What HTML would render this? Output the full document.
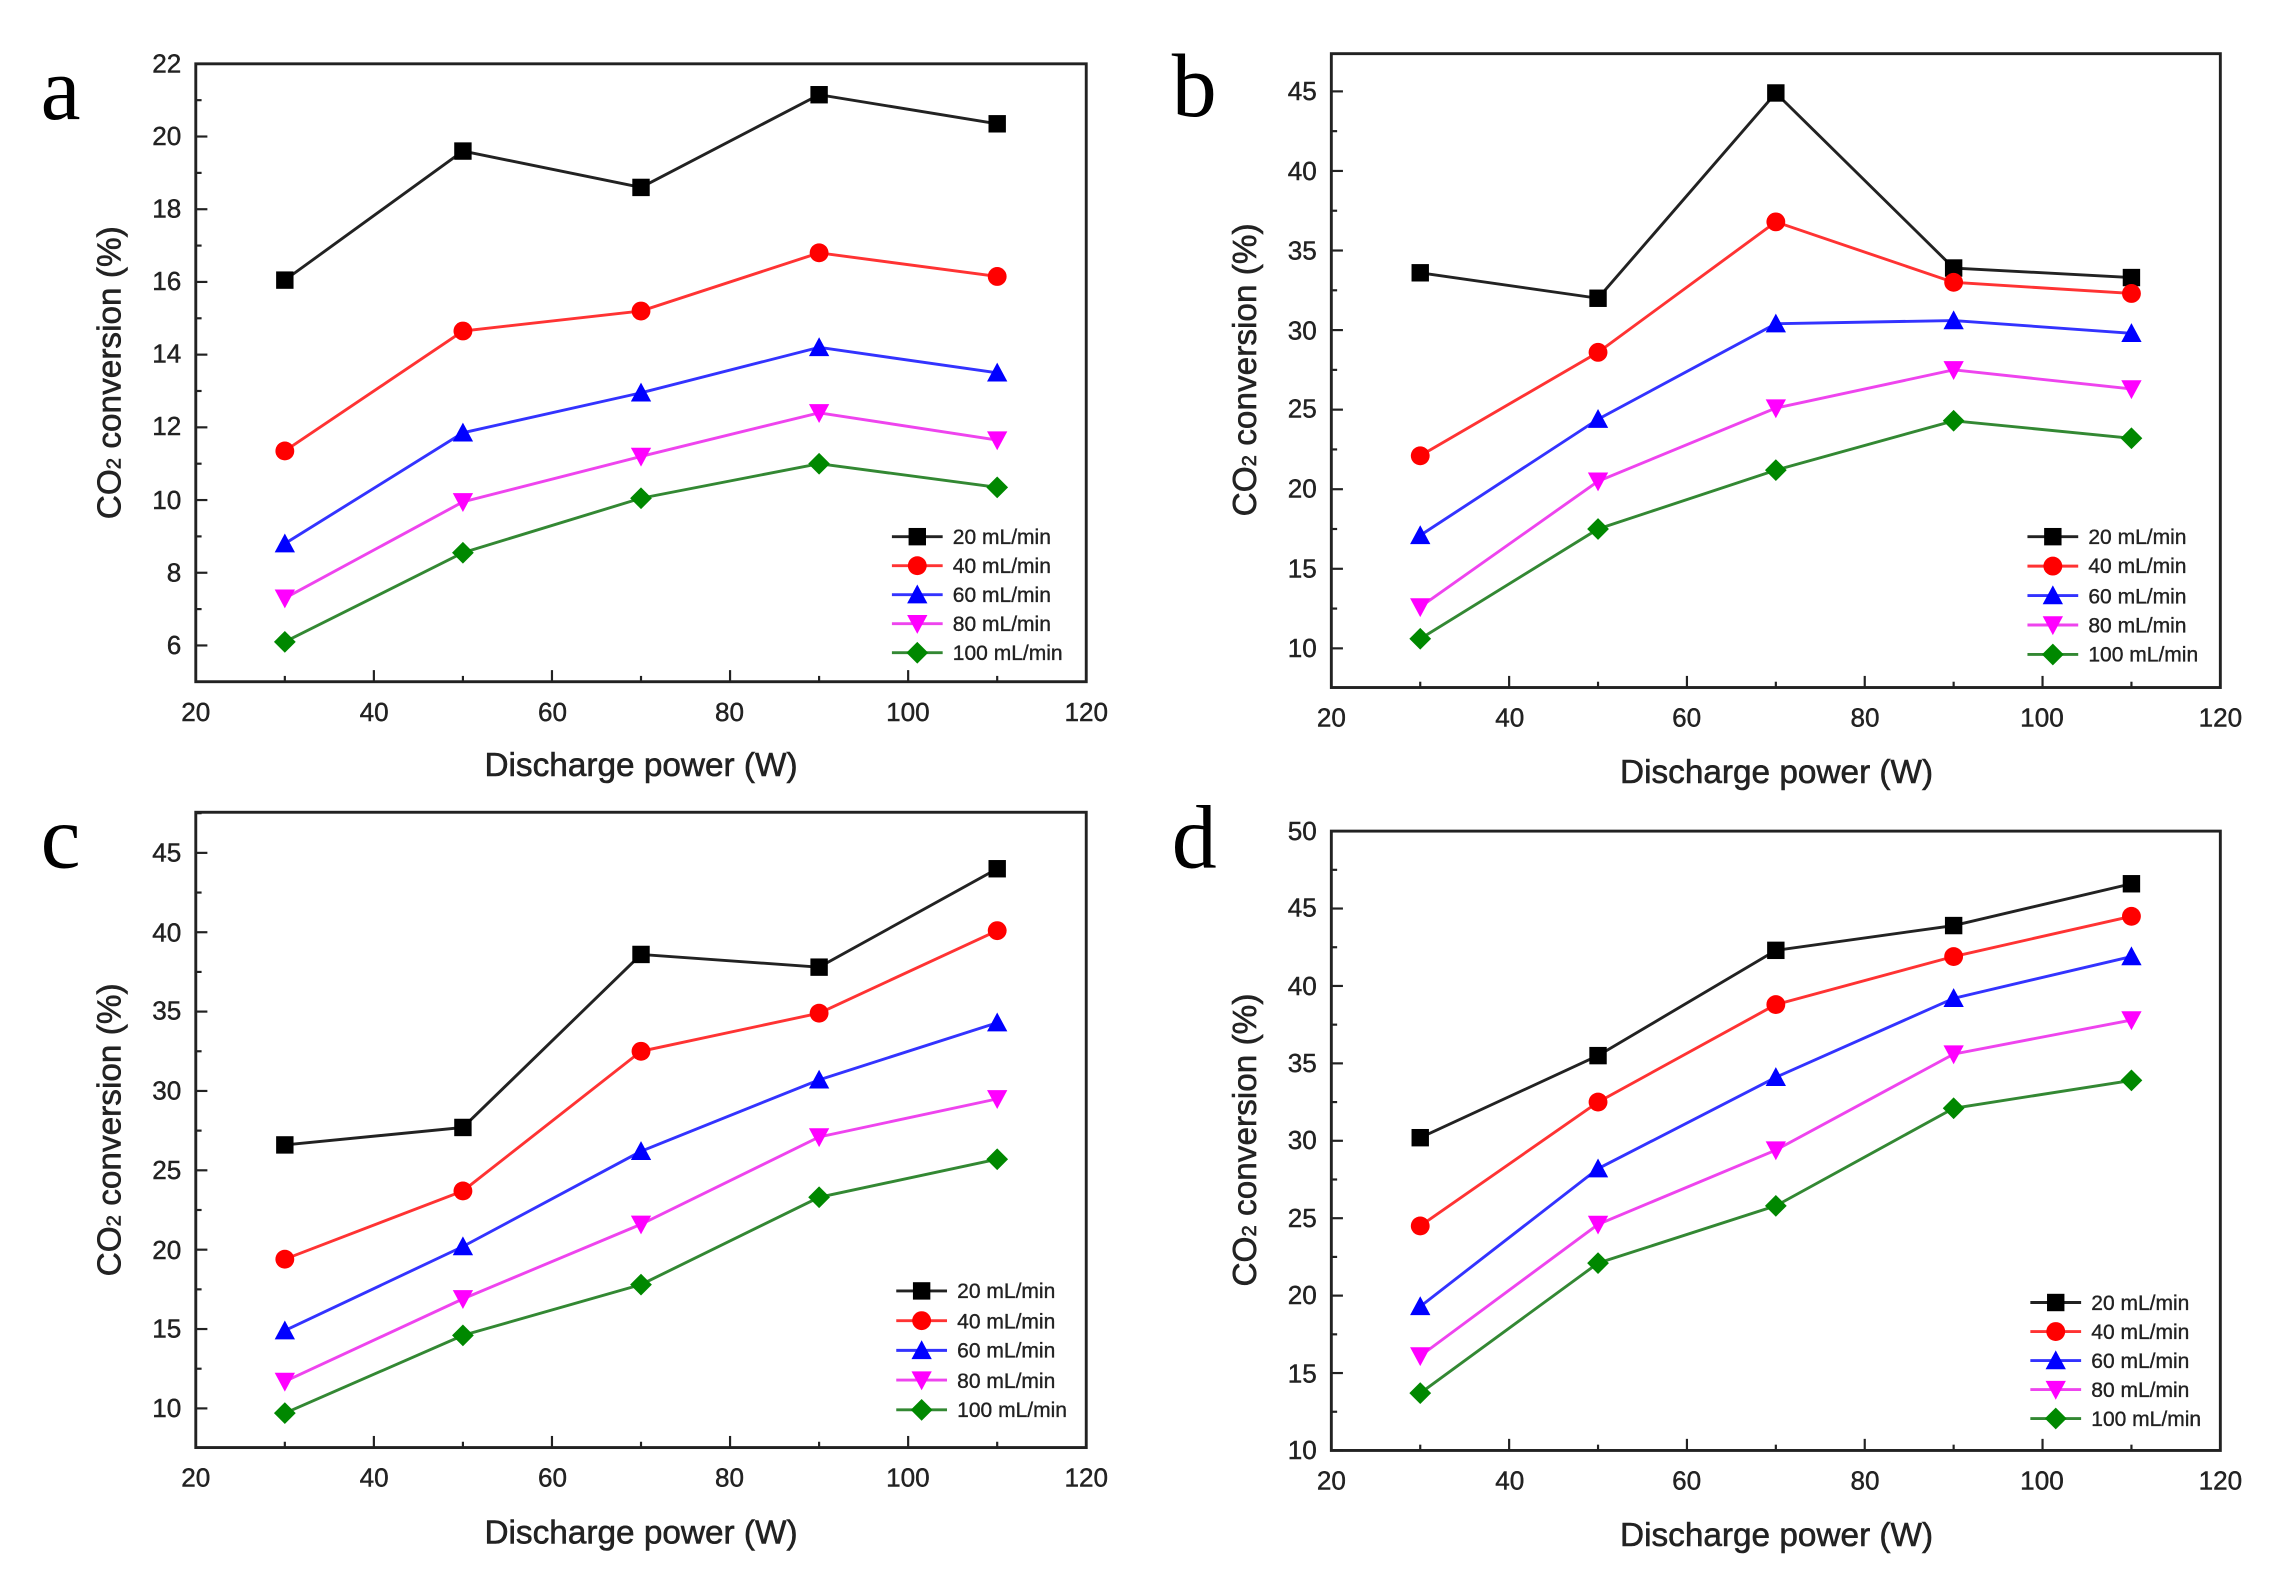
<!DOCTYPE html>
<html><head><meta charset="utf-8"><style>
html,body{margin:0;padding:0;background:#fff;}
svg{display:block}
text{font-family:"Liberation Sans",Arial,sans-serif;fill:#222}
.t{font-size:18px;stroke:#222;stroke-width:0.3px}
.ax{font-size:23px;stroke:#222;stroke-width:0.4px}
.lg{font-size:14.5px;stroke:#222;stroke-width:0.25px}
.pl{font-family:"Liberation Serif",serif;font-size:62px;fill:#000}
</style></head><body>
<svg id="s" width="2274" height="1581" viewBox="0 0 1568 1090" preserveAspectRatio="none" xmlns="http://www.w3.org/2000/svg">
<rect width="1568" height="1090" fill="#fff"/>
<g id="g"></g>
<text class="pl" x="28" y="82">a</text>
<text class="pl" x="808" y="80">b</text>
<text class="pl" x="28" y="598">c</text>
<text class="pl" x="808" y="598">d</text>
<text class="ax" x="442" y="535" text-anchor="middle">Discharge power (W)</text>
<text class="ax" x="1225" y="540" text-anchor="middle">Discharge power (W)</text>
<text class="ax" x="442" y="1064" text-anchor="middle">Discharge power (W)</text>
<text class="ax" x="1225" y="1066" text-anchor="middle">Discharge power (W)</text>
<text class="ax" transform="translate(83,257) rotate(-90)" text-anchor="middle">CO<tspan font-size="14">2</tspan> conversion (%)</text>
<text class="ax" transform="translate(866,255) rotate(-90)" text-anchor="middle">CO<tspan font-size="14">2</tspan> conversion (%)</text>
<text class="ax" transform="translate(83,779) rotate(-90)" text-anchor="middle">CO<tspan font-size="14">2</tspan> conversion (%)</text>
<text class="ax" transform="translate(866,786) rotate(-90)" text-anchor="middle">CO<tspan font-size="14">2</tspan> conversion (%)</text>
<g class="t" text-anchor="middle">
<text x="135" y="497">20</text><text x="258" y="497">40</text><text x="381" y="497">60</text><text x="503" y="497">80</text><text x="626" y="497">100</text><text x="749" y="497">120</text>
<text x="918" y="501">20</text><text x="1041" y="501">40</text><text x="1163" y="501">60</text><text x="1286" y="501">80</text><text x="1408" y="501">100</text><text x="1531" y="501">120</text>
<text x="135" y="1025">20</text><text x="258" y="1025">40</text><text x="381" y="1025">60</text><text x="503" y="1025">80</text><text x="626" y="1025">100</text><text x="749" y="1025">120</text>
<text x="918" y="1027">20</text><text x="1041" y="1027">40</text><text x="1163" y="1027">60</text><text x="1286" y="1027">80</text><text x="1408" y="1027">100</text><text x="1531" y="1027">120</text>
</g>
<g class="t" text-anchor="end">
<text x="125" y="50">22</text><text x="125" y="100">20</text><text x="125" y="150">18</text><text x="125" y="200">16</text><text x="125" y="250">14</text><text x="125" y="300">12</text><text x="125" y="351">10</text><text x="125" y="401">8</text><text x="125" y="451">6</text>
<text x="908" y="69">45</text><text x="908" y="124">40</text><text x="908" y="179">35</text><text x="908" y="234">30</text><text x="908" y="288">25</text><text x="908" y="343">20</text><text x="908" y="398">15</text><text x="908" y="453">10</text>
<text x="125" y="594">45</text><text x="125" y="649">40</text><text x="125" y="703">35</text><text x="125" y="758">30</text><text x="125" y="813">25</text><text x="125" y="868">20</text><text x="125" y="922">15</text><text x="125" y="977">10</text>
<text x="908" y="579">50</text><text x="908" y="632">45</text><text x="908" y="686">40</text><text x="908" y="739">35</text><text x="908" y="792">30</text><text x="908" y="846">25</text><text x="908" y="899">20</text><text x="908" y="953">15</text><text x="908" y="1006">10</text>
</g>
<g class="lg">
<text x="657" y="375">20 mL/min</text><text x="657" y="395">40 mL/min</text><text x="657" y="415">60 mL/min</text><text x="657" y="435">80 mL/min</text><text x="657" y="455">100 mL/min</text>
<text x="1440" y="375">20 mL/min</text><text x="1440" y="395">40 mL/min</text><text x="1440" y="416">60 mL/min</text><text x="1440" y="436">80 mL/min</text><text x="1440" y="456">100 mL/min</text>
<text x="660" y="895">20 mL/min</text><text x="660" y="916">40 mL/min</text><text x="660" y="936">60 mL/min</text><text x="660" y="957">80 mL/min</text><text x="660" y="977">100 mL/min</text>
<text x="1442" y="903">20 mL/min</text><text x="1442" y="923">40 mL/min</text><text x="1442" y="943">60 mL/min</text><text x="1442" y="963">80 mL/min</text><text x="1442" y="983">100 mL/min</text>
</g>
</svg>
<script>
var NS="http://www.w3.org/2000/svg",G=document.getElementById("g");
function el(t,a){var e=document.createElementNS(NS,t);for(var k in a)e.setAttribute(k,a[k]);G.appendChild(e);return e;}
var cols=["#000","#f00","#00f","#f0f","#080"],lcols=["#222","#f33","#33f","#e4e","#383"];
function mk(i,x,y){var c=cols[i],s=6;
 if(i==0)el("rect",{x:x-s,y:y-s,width:2*s,height:2*s,fill:c});
 else if(i==1)el("circle",{cx:x,cy:y,r:s+0.5,fill:c});
 else if(i==2)el("polygon",{points:(x)+","+(y-s-1)+" "+(x+s+1)+","+(y+s)+" "+(x-s-1)+","+(y+s),fill:c});
 else if(i==3)el("polygon",{points:(x)+","+(y+s+1)+" "+(x+s+1)+","+(y-s)+" "+(x-s-1)+","+(y-s),fill:c});
 else el("polygon",{points:x+","+(y-s-1.5)+" "+(x+s+1.5)+","+y+" "+x+","+(y+s+1.5)+" "+(x-s-1.5)+","+y,fill:c});}
var P=[
{L:135,R:749,T:44,B:470,y0:6,py0:445,y1:22,py1:44,ys:[6,22,2],lx:615,ly:370,ld:20,
 d:[[16.05,19.6,18.6,21.15,20.35],[11.35,14.65,15.2,16.8,16.15],[8.8,11.85,12.95,14.2,13.5],[7.3,9.95,11.2,12.4,11.65],[6.1,8.55,10.05,11.0,10.35]]},
{L:918,R:1531,T:37,B:474,y0:10,py0:447,y1:45,py1:63,ys:[10,45,5],lx:1398,ly:370,ld:20.3,
 d:[[33.6,32,44.9,33.9,33.3],[22.1,28.6,36.8,33,32.3],[17.1,24.4,30.4,30.6,29.8],[12.6,20.5,25.1,27.5,26.3],[10.6,17.5,21.2,24.3,23.2]]},
{L:135,R:749,T:560,B:998,y0:10,py0:971,y1:45,py1:588,ys:[10,45,5],lx:618,ly:890,ld:20.5,
 d:[[26.6,27.7,38.6,37.8,44],[19.4,23.7,32.5,34.9,40.1],[14.9,20.2,26.2,30.7,34.3],[11.7,16.9,21.6,27.1,29.5],[9.7,14.6,17.8,23.3,25.7]]},
{L:918,R:1531,T:573,B:1000,y0:10,py0:1000,y1:50,py1:573,ys:[10,50,5],lx:1400,ly:898,ld:20,
 d:[[30.2,35.5,42.3,43.9,46.6],[24.5,32.5,38.8,41.9,44.5],[19.3,28.2,34.1,39.2,41.9],[16.1,24.6,29.4,35.6,37.8],[13.7,22.1,25.8,32.1,33.9]]}];
P.forEach(function(p){
 function X(v){return p.L+(v-20)/100*(p.R-p.L);}
 function Y(v){return p.py0+(v-p.y0)/(p.y1-p.y0)*(p.py1-p.py0);}
 el("rect",{x:p.L,y:p.T,width:p.R-p.L,height:p.B-p.T,fill:"none",stroke:"#222","stroke-width":2});
 for(var v=20;v<=120;v+=10){var x=X(v),l=(v%20==0)?8:4;el("line",{x1:x,x2:x,y1:p.B,y2:p.B-l,stroke:"#222","stroke-width":1.5});}
 var h=p.ys[2]/2;
 for(var v=p.ys[0]-h;v<=p.ys[1]+h+0.01;v+=h){var y=Y(v);if(y<p.T||y>p.B)continue;var maj=Math.abs((v-p.ys[0])/p.ys[2]-Math.round((v-p.ys[0])/p.ys[2]))<0.01;
  el("line",{x1:p.L,x2:p.L+(maj?8:4),y1:y,y2:y,stroke:"#222","stroke-width":1.5});}
 p.d.forEach(function(s,i){
  var pts=s.map(function(v,j){return X(30+20*j)+","+Y(v);}).join(" ");
  el("polyline",{points:pts,fill:"none",stroke:lcols[i],"stroke-width":2});
  s.forEach(function(v,j){mk(i,X(30+20*j),Y(v));});
  var ly=p.ly+i*p.ld;
  el("line",{x1:p.lx,x2:p.lx+35,y1:ly,y2:ly,stroke:lcols[i],"stroke-width":2});
  mk(i,p.lx+17.5,ly);
 });
});
</script>
</body></html>
